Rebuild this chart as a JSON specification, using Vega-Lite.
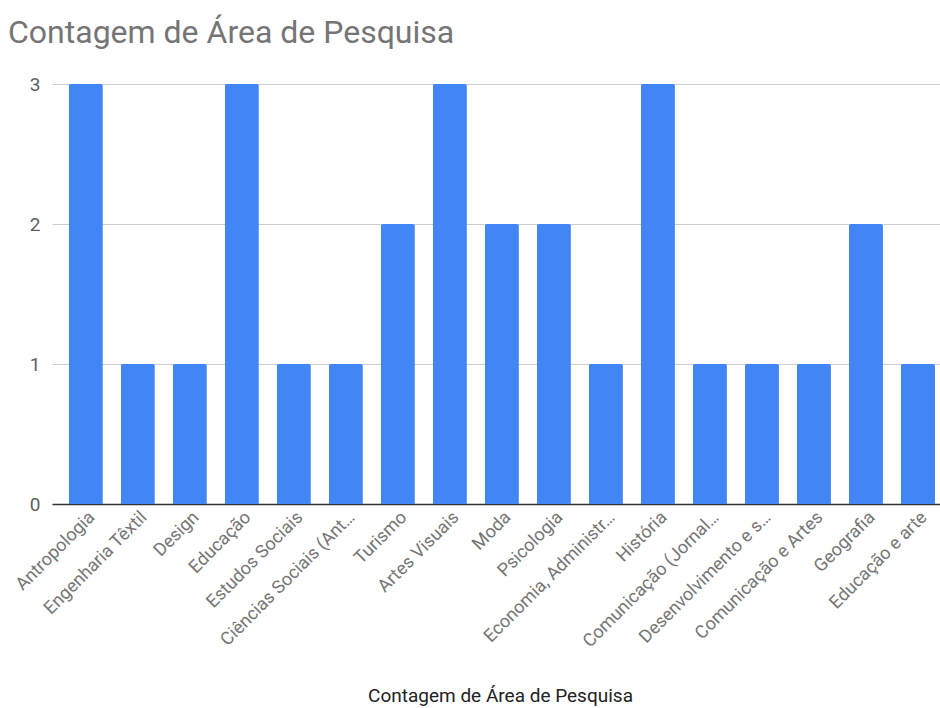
{
  "$schema": "https://vega.github.io/schema/vega-lite/v6.json",
  "autosize": "none",
  "width": 888,
  "height": 420,
  "padding": {"left": 52, "top": 84, "right": 0, "bottom": 204},
  "background": "white",
  "title": {
    "text": "Contagem de Área de Pesquisa",
    "anchor": "start",
    "frame": "group",
    "dx": -44,
    "offset": 0,
    "baseline": "alphabetic",
    "font": "Roboto",
    "fontSize": 32,
    "fontWeight": "normal",
    "color": "#757575"
  },
  "data": {
    "values": [
      {"area": "Antropologia", "count": 3},
      {"area": "Engenharia Têxtil", "count": 1},
      {"area": "Design", "count": 1},
      {"area": "Educação", "count": 3},
      {"area": "Estudos Sociais", "count": 1},
      {"area": "Ciências Sociais (Ant…", "count": 1},
      {"area": "Turismo", "count": 2},
      {"area": "Artes Visuais", "count": 3},
      {"area": "Moda", "count": 2},
      {"area": "Psicologia", "count": 2},
      {"area": "Economia, Administr…", "count": 1},
      {"area": "História", "count": 3},
      {"area": "Comunicação (Jornal…", "count": 1},
      {"area": "Desenvolvimento e s…", "count": 1},
      {"area": "Comunicação e Artes", "count": 1},
      {"area": "Geografia", "count": 2},
      {"area": "Educação e arte", "count": 1}
    ]
  },
  "mark": {"type": "bar", "color": "#4285F4", "cornerRadiusTopLeft": 2, "cornerRadiusTopRight": 2},
  "encoding": {
    "x": {
      "field": "area",
      "type": "nominal",
      "sort": null,
      "scale": {"paddingInner": 0.346, "paddingOuter": 0.21, "align": 0.77},
      "axis": {
        "title": "Contagem de Área de Pesquisa",
        "titleFont": "Roboto",
        "titleFontSize": 19,
        "titleFontWeight": "normal",
        "titleColor": "#222222",
        "titleX": 448,
        "titleY": 191,
        "titleBaseline": "middle",
        "titleAnchor": "middle",
        "labelAngle": -45,
        "labelAlign": "right",
        "labelBaseline": "top",
        "labelFont": "Roboto",
        "labelFontSize": 18,
        "labelColor": "#757575",
        "labelPadding": 4,
        "labelLimit": 300,
        "ticks": false,
        "domain": true,
        "domainColor": "#333333",
        "domainWidth": 1.5
      }
    },
    "y": {
      "field": "count",
      "type": "quantitative",
      "scale": {"domain": [0, 3]},
      "axis": {
        "title": null,
        "values": [0, 1, 2, 3],
        "format": "d",
        "ticks": false,
        "domain": false,
        "labelFont": "Roboto",
        "labelFontSize": 19,
        "labelColor": "#5f5f5f",
        "labelPadding": 12,
        "gridColor": "#cccccc",
        "gridWidth": 1
      }
    }
  },
  "config": {"view": {"stroke": null}}
}
